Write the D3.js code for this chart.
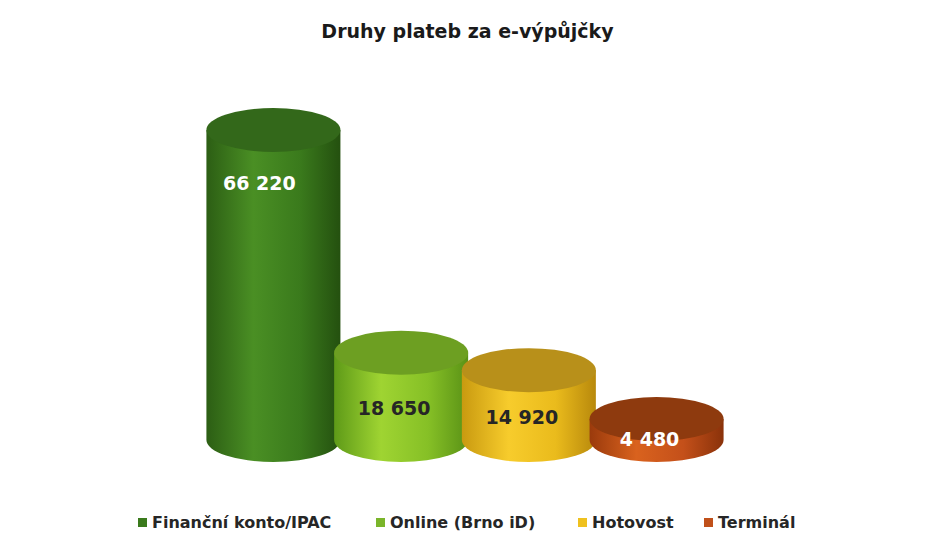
<!DOCTYPE html>
<html><head><meta charset="utf-8">
<script src="https://cdn.jsdelivr.net/npm/d3@7"></script>
<style>body{margin:0;background:#fff}svg{display:block}</style>
</head><body>
<script>
const categories = ["Finanční konto/IPAC","Online (Brno iD)","Hotovost","Terminál"];
const values = [66220,18650,14920,4480];
const labels = ["66 220","18 650","14 920","4 480"];
const colors = [
 {side:["#2c5e14","#4a8f24","#3a7a1c","#24500f"], top:"#33681a", legend:"#3a7a1c", text:"#fff"},
 {side:["#5e9a18","#9fd432","#86c026","#5a9216"], top:"#6d9f22", legend:"#7ab52a", text:"#262626"},
 {side:["#c99a10","#f7cc2c","#eabb1c","#b8890c"], top:"#b8901a", legend:"#efc11f", text:"#262626"},
 {side:["#9a3a0c","#d9621e","#c4501a","#8a320a"], top:"#8e3a0e", legend:"#c0501a", text:"#fff"}
];
const W=935,H=552;
const svg=d3.select("body").append("svg").attr("width",W).attr("height",H);
svg.append("rect").attr("width",W).attr("height",H).attr("fill","#fff");
svg.append("text").attr("x",W/2).attr("y",38).attr("text-anchor","middle")
 .attr("font-family","DejaVu Sans").attr("font-weight","bold").attr("font-size",19).attr("fill","#1a1a1a")
 .text("Druhy plateb za e-výpůjčky");
const x=d3.scaleBand().domain(categories).range([207,723]).paddingInner(-0.04);
const y=d3.scaleLinear().domain([0,66220]).range([440,130]);
const defs=svg.append("defs");
const rx=67, ry=22;
categories.forEach((c,i)=>{
 const g=defs.append("linearGradient").attr("id","g"+i);
 [[0,0],[0.35,1],[0.7,2],[1,3]].forEach(([o,k])=>g.append("stop").attr("offset",o).attr("stop-color",colors[i].side[k]));
 const cx=x(c)+x.bandwidth()/2, yb=y(0), yt=y(values[i]);
 const grp=svg.append("g");
 grp.append("path").attr("d",`M${cx-rx},${yt} L${cx-rx},${yb} A${rx},${ry} 0 0 0 ${cx+rx},${yb} L${cx+rx},${yt} Z`)
  .attr("fill",`url(#g${i})`);
 grp.append("ellipse").attr("cx",cx).attr("cy",yt).attr("rx",rx).attr("ry",ry).attr("fill",colors[i].top);
 const ly = i===0 ? 184 : (i===3 ? (yt+yb)/2+ry*0.5 : (yt+yb)/2+ry*0.6);
 grp.append("text").attr("x",cx-(i===0?14:7)).attr("y",ly).attr("text-anchor","middle").attr("dominant-baseline","middle")
  .attr("font-family","DejaVu Sans").attr("font-weight","bold").attr("font-size",19).attr("fill",colors[i].text).text(labels[i]);
});
// legend
const legX=[138,376,578,704];
categories.forEach((c,i)=>{
 svg.append("rect").attr("x",legX[i]).attr("y",518).attr("width",9).attr("height",9).attr("fill",colors[i].legend);
 svg.append("text").attr("x",legX[i]+14).attr("y",528).attr("font-family","DejaVu Sans").attr("font-weight","bold")
  .attr("font-size",16).attr("fill","#262626").text(c);
});
</script>
</body></html>
